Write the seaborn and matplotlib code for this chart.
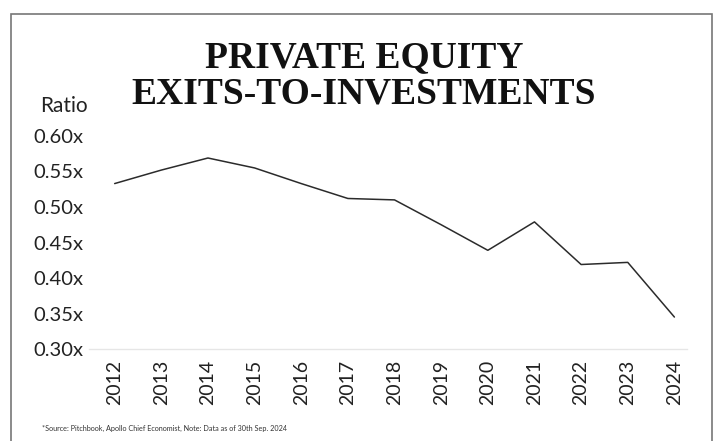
import matplotlib
matplotlib.use("Agg")
import matplotlib.pyplot as plt
from matplotlib.patches import Rectangle
import pandas as pd
import seaborn as sb

# values
years = [2012, 2013, 2014, 2015, 2016, 2017, 2018, 2019, 2020, 2021, 2022, 2023, 2024]
ratio = [0.533, 0.552, 0.569, 0.555, 0.533, 0.512, 0.510, 0.475, 0.439, 0.479, 0.419, 0.422, 0.345]
y_ticks = [0.30, 0.35, 0.40, 0.45, 0.50, 0.55, 0.60]
y_tick_labels = ["0.30x", "0.35x", "0.40x", "0.45x", "0.50x", "0.55x", "0.60x"]

title_text = "PRIVATE EQUITY\nEXITS-TO-INVESTMENTS"
source_text = "*Source: Pitchbook, Apollo Chief Economist, Note: Data as of 30th Sep. 2024"


def show_report():
    sb.set_style("white")
    plt.rcParams["font.family"] = ["Lato", "DejaVu Sans"]

    df = pd.DataFrame({"year": years, "ratio": ratio})

    fig = plt.figure(figsize=(7.17, 4.41), dpi=100)
    ax = fig.add_axes([89 / 717, 1 - 349 / 441, 598 / 717, 213 / 441])

    sb.lineplot(x="year", y="ratio", data=df, color="#2b2b2b", linewidth=1.1, ax=ax)

    ax.set_xlim(2011.45, 2024.27)
    ax.set_ylim(0.30, 0.60)
    ax.set_xticks(years)
    ax.set_xticklabels([str(y) for y in years], rotation=90, fontsize=14, color="#222222")
    ax.set_yticks(y_ticks)
    ax.set_yticklabels(y_tick_labels, fontsize=14.5, color="#222222")
    ax.tick_params(axis="both", length=0)
    ax.tick_params(axis="x", pad=8)
    ax.tick_params(axis="y", pad=4)
    ax.set_xlabel("")
    ax.set_ylabel("")
    for side in ["top", "right", "left"]:
        ax.spines[side].set_visible(False)
    ax.spines["bottom"].set_color("#e6e6e6")
    ax.spines["bottom"].set_linewidth(1)

    # title and labels
    fig.text(364 / 717, 1 - 76 / 441, title_text, ha="center", va="center",
             fontsize=27, fontweight="bold", family=["Liberation Serif", "DejaVu Serif"],
             linespacing=1.05, color="#111111")
    fig.text(40 / 717, 1 - 106 / 441, "Ratio", ha="left", va="center", fontsize=15, color="#222222")
    fig.text(42 / 717, 1 - 428 / 441, source_text, ha="left", va="center", fontsize=5.2, color="#333333")

    # grey frame around the whole card
    fig.patches.append(Rectangle((11 / 717, -0.05), 701 / 717, 1.05 - 14 / 441,
                                 transform=fig.transFigure, fill=False,
                                 edgecolor="#777777", linewidth=1.2))

    fig.savefig("out.png", dpi=100)


if __name__ == '__main__':
    show_report()
